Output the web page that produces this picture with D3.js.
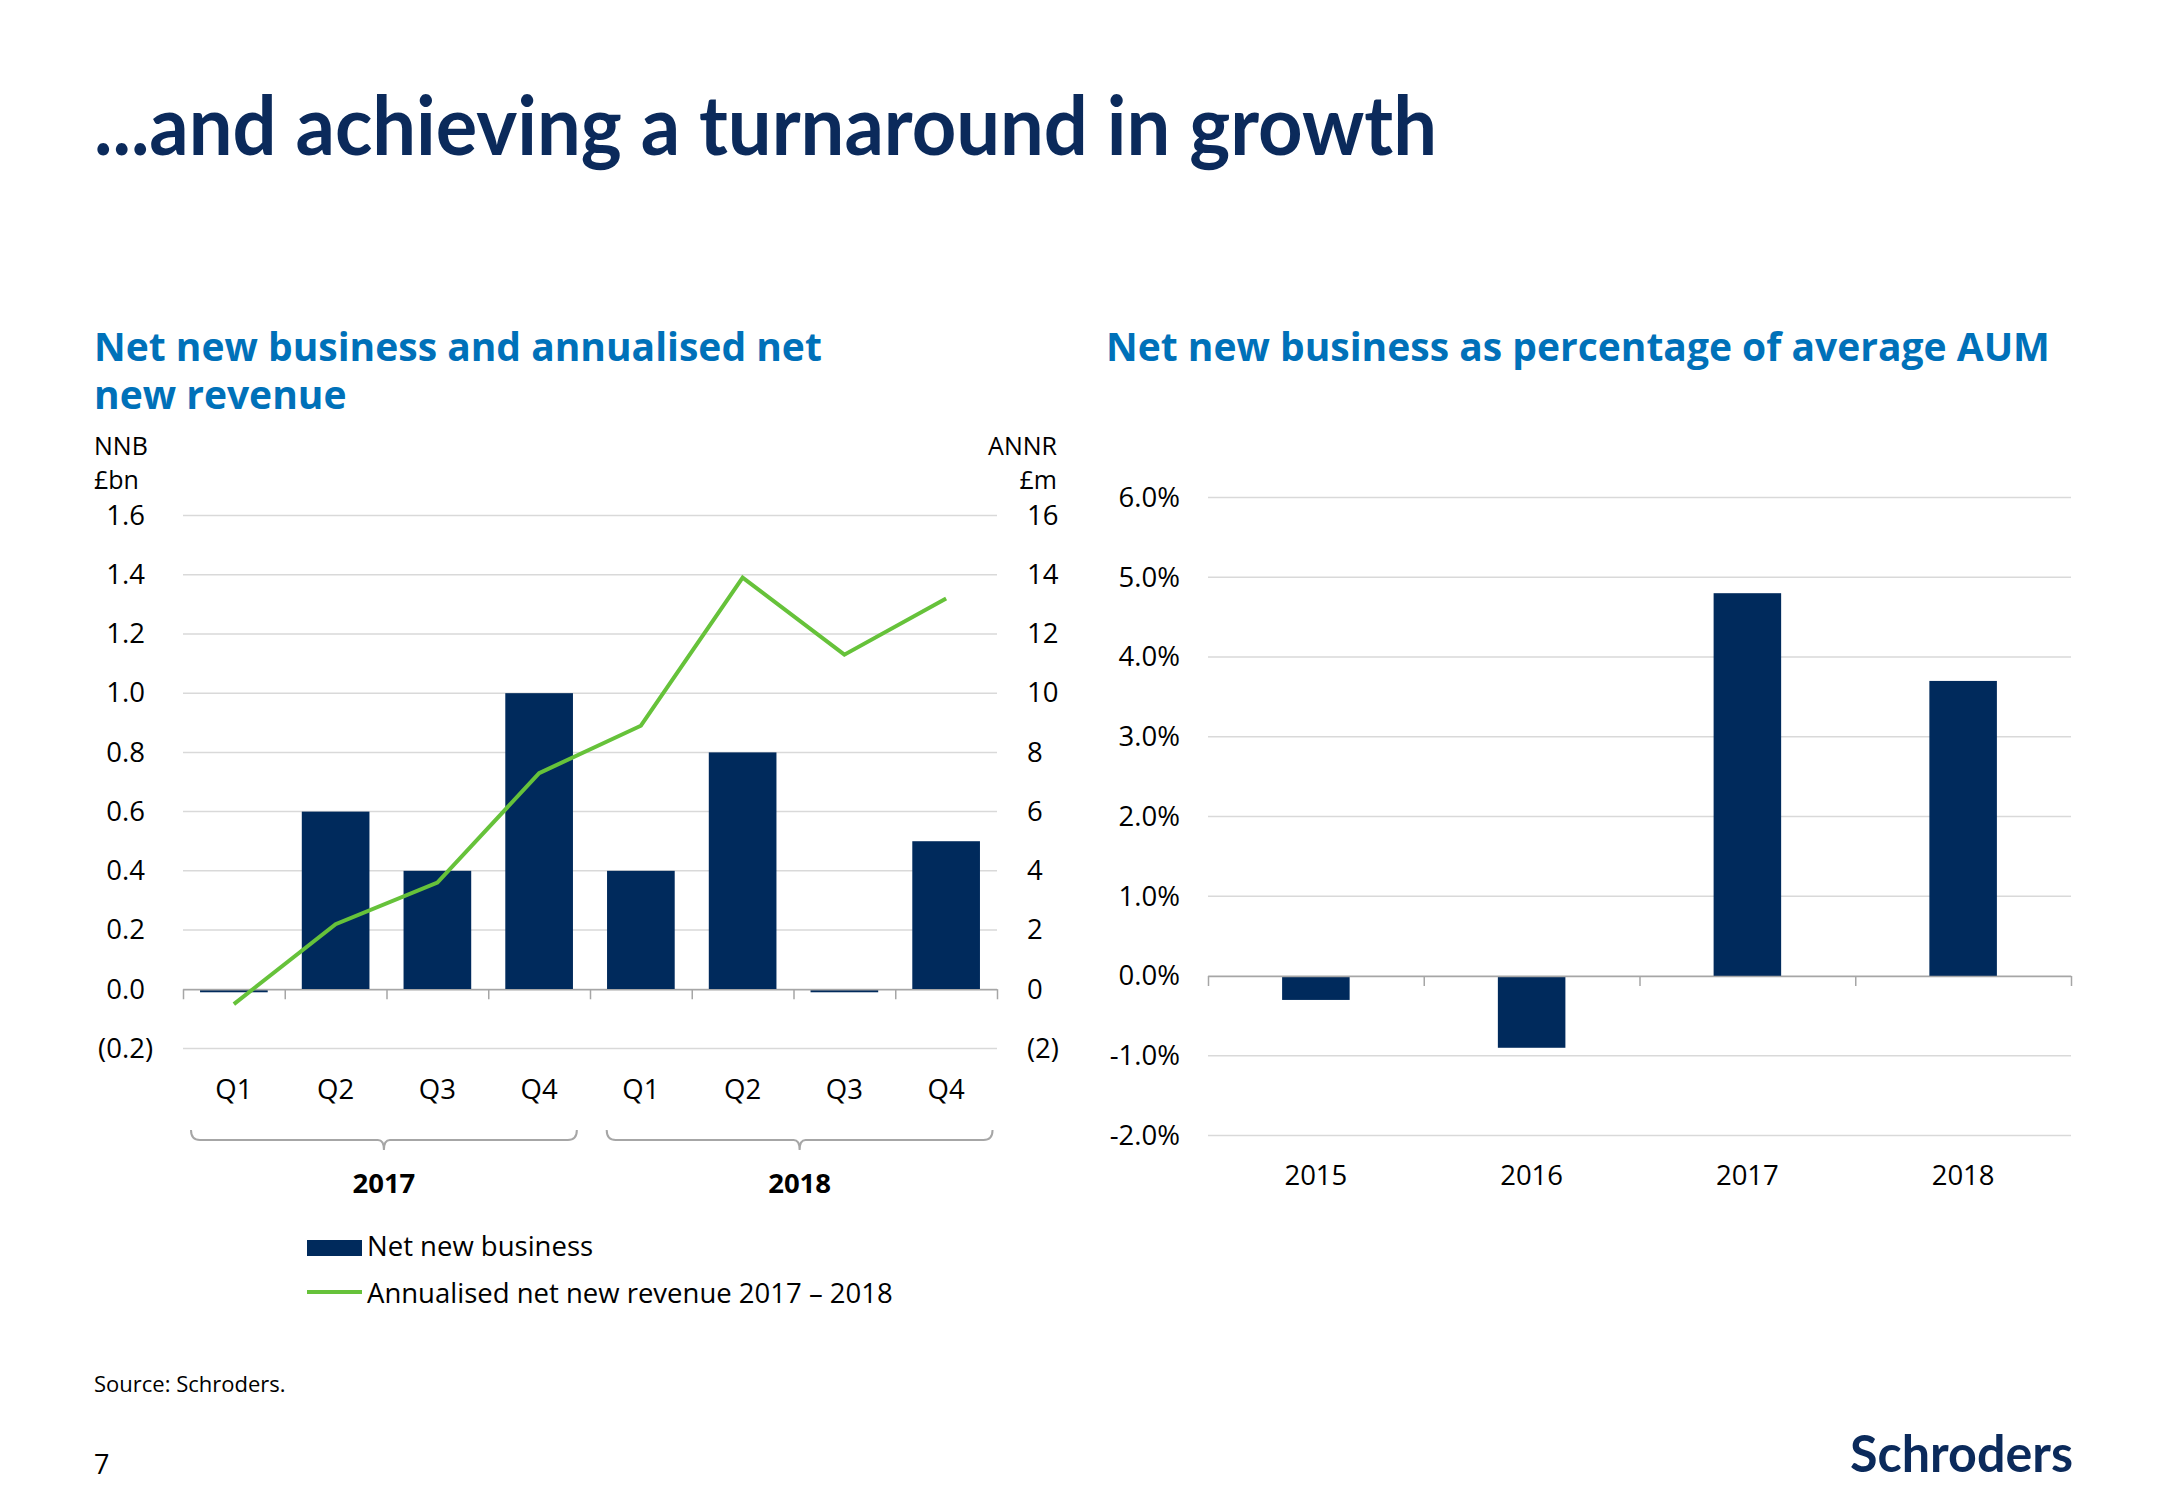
<!DOCTYPE html>
<html>
<head>
<meta charset="utf-8">
<script src="https://cdn.jsdelivr.net/npm/d3@7"></script>
<style>
  html, body { margin: 0; padding: 0; background: #ffffff; }
  svg { display: block; }
  text { font-family: "Open Sans", "DejaVu Sans", sans-serif; }
</style>
</head>
<body>
<svg id="chart" width="2167" height="1500"></svg>
<script>
// ---------- DATA ----------
const quarterLabels = ["Q1", "Q2", "Q3", "Q4", "Q1", "Q2", "Q3", "Q4"];
const quarterYears = ["2017", "2017", "2017", "2017", "2018", "2018", "2018", "2018"];
const yearGroups = ["2017", "2018"];
const nnbValues = [-0.01, 0.6, 0.4, 1.0, 0.4, 0.8, -0.01, 0.5];        // £bn
const annrValues = [-0.5, 2.2, 3.6, 7.3, 8.9, 13.9, 11.3, 13.2];       // £m
const nnbTicks = [-0.2, 0, 0.2, 0.4, 0.6, 0.8, 1.0, 1.2, 1.4, 1.6];
const annrTicks = [-2, 0, 2, 4, 6, 8, 10, 12, 14, 16];

const aumYears = ["2015", "2016", "2017", "2018"];
const aumPct = [-0.003, -0.009, 0.048, 0.037];
const aumTicks = [-0.02, -0.01, 0, 0.01, 0.02, 0.03, 0.04, 0.05, 0.06];

// ---------- STYLE ----------
const NAVY = "#002a5c";
const BLUE = "#0071b9";
const GREEN = "#66c23a";
const GRID = "#d9d9d9";
const AXIS = "#a6a6a6";
const FS = 27.5;

const svg = d3.select("#chart");

// ---------- HEADINGS ----------
svg.append("text")
  .attr("x", 94).attr("y", 155)
  .attr("textLength", 1343).attr("lengthAdjust", "spacingAndGlyphs")
  .style("font-family", "Lato, 'Open Sans', sans-serif")
  .style("font-weight", 700).style("font-size", "82px")
  .attr("fill", "#0b2a5b")
  .text("...and achieving a turnaround in growth");

const sub1 = svg.append("text").attr("fill", BLUE)
  .style("font-weight", 700).style("font-size", "39px");
sub1.append("tspan").attr("x", 94).attr("y", 361).text("Net new business and annualised net");
sub1.append("tspan").attr("x", 94).attr("y", 409).text("new revenue");

svg.append("text").attr("x", 1106).attr("y", 361).attr("fill", BLUE)
  .style("font-weight", 700).style("font-size", "39px")
  .text("Net new business as percentage of average AUM");

// ---------- LEFT CHART ----------
const L = { left: 183, right: 997, top: 515.5, bottom: 1048.5 };
const yL = d3.scaleLinear().domain([-0.2, 1.6]).range([L.bottom, L.top]);
const yR = d3.scaleLinear().domain([-2, 16]).range([L.bottom, L.top]);
const xL = d3.scaleBand().domain(d3.range(quarterLabels.length))
  .range([L.left, L.right]).paddingInner(0.335).paddingOuter(0.1675);

// gridlines
svg.append("g").selectAll("line").data(nnbTicks).join("line")
  .attr("x1", L.left).attr("x2", L.right)
  .attr("y1", d => yL(d)).attr("y2", d => yL(d))
  .attr("stroke", GRID).attr("stroke-width", 1.5);

// left axis labels
const gLeft = svg.append("g").attr("transform", `translate(153,0)`)
  .call(d3.axisLeft(yL).tickValues(nnbTicks).tickSize(0).tickPadding(0)
    .tickFormat(d => d < 0 ? "(" + d3.format(".1f")(-d) + ")" : d3.format(".1f")(d)));
gLeft.select(".domain").remove();
gLeft.selectAll("text").style("font-size", FS + "px").style("font-family", "'Open Sans', sans-serif")
  .attr("fill", "#000").attr("dx", d => d < 0 ? 0 : -8);

// right axis labels
const gRight = svg.append("g").attr("transform", `translate(1027,0)`)
  .call(d3.axisRight(yR).tickValues(annrTicks).tickSize(0).tickPadding(0)
    .tickFormat(d => d < 0 ? "(" + (-d) + ")" : String(d)));
gRight.select(".domain").remove();
gRight.selectAll("text").style("font-size", FS + "px").style("font-family", "'Open Sans', sans-serif")
  .attr("fill", "#000");

// unit labels
const UFS = 25;
svg.append("text").attr("x", 94).attr("y", 455).style("font-size", UFS + "px").attr("fill", "#000").text("NNB");
svg.append("text").attr("x", 94).attr("y", 489).style("font-size", UFS + "px").attr("fill", "#000").text("£bn");
svg.append("text").attr("x", 1057).attr("y", 455).attr("text-anchor", "end").style("font-size", UFS + "px").attr("fill", "#000").text("ANNR");
svg.append("text").attr("x", 1057).attr("y", 489).attr("text-anchor", "end").style("font-size", UFS + "px").attr("fill", "#000").text("£m");

// bars
svg.append("g").selectAll("rect").data(nnbValues).join("rect")
  .attr("x", (d, i) => xL(i))
  .attr("width", xL.bandwidth())
  .attr("y", d => yL(Math.max(0, d)))
  .attr("height", d => Math.max(Math.abs(yL(d) - yL(0)), 3))
  .attr("fill", NAVY);

// x axis with boundary ticks at zero
const boundL = d3.scaleLinear().domain([0, quarterLabels.length]).range([L.left, L.right]);
const gAxL = svg.append("g").attr("transform", `translate(0,${yL(0)})`)
  .call(d3.axisBottom(boundL).tickValues(d3.range(quarterLabels.length + 1)).tickSize(10).tickSizeOuter(0).tickFormat(""));
gAxL.selectAll("path, line").attr("stroke", AXIS).attr("stroke-width", 1.5);

// quarter labels
const gQ = svg.append("g").attr("transform", `translate(0,1079)`)
  .call(d3.axisBottom(xL).tickSize(0).tickPadding(0).tickFormat(i => quarterLabels[i]));
gQ.select(".domain").remove();
gQ.selectAll("text").style("font-size", FS + "px").style("font-family", "'Open Sans', sans-serif").attr("fill", "#000");

// line
const line = d3.line().x((d, i) => xL(i) + xL.bandwidth() / 2).y(d => yR(d));
svg.append("path").datum(annrValues).attr("d", line)
  .attr("fill", "none").attr("stroke", GREEN).attr("stroke-width", 4).attr("stroke-linejoin", "miter");

// year brackets
const bracketInset = [8, 16.7];
yearGroups.forEach((yr, gi) => {
  const idx = quarterYears.map((q, i) => q === yr ? i : -1).filter(i => i >= 0);
  const x0 = boundL(d3.min(idx)), x1 = boundL(d3.max(idx) + 1);
  const w = (x1 - x0) * 0.948;
  const a = x0 + bracketInset[gi], b = a + w, cx = (a + b) / 2;
  const yTop = 1130, yMid = 1140, yTip = 1150, r = 9;
  const p = d3.path();
  p.moveTo(a, yTop);
  p.quadraticCurveTo(a, yMid, a + r, yMid);
  p.lineTo(cx - 6, yMid);
  p.quadraticCurveTo(cx, yMid, cx, yTip);
  p.quadraticCurveTo(cx, yMid, cx + 6, yMid);
  p.lineTo(b - r, yMid);
  p.quadraticCurveTo(b, yMid, b, yTop);
  svg.append("path").attr("d", p.toString()).attr("fill", "none")
    .attr("stroke", AXIS).attr("stroke-width", 2);
  svg.append("text").attr("x", cx).attr("y", 1193).attr("text-anchor", "middle")
    .style("font-size", FS + "px").style("font-weight", 700).attr("fill", "#000").text(yr);
});

// legend
svg.append("rect").attr("x", 307).attr("y", 1240).attr("width", 55).attr("height", 16).attr("fill", NAVY);
svg.append("text").attr("x", 367).attr("y", 1256).style("font-size", FS + "px").attr("fill", "#000").text("Net new business");
svg.append("line").attr("x1", 307).attr("x2", 362).attr("y1", 1292).attr("y2", 1292)
  .attr("stroke", GREEN).attr("stroke-width", 4);
svg.append("text").attr("x", 367).attr("y", 1303).style("font-size", FS + "px").attr("fill", "#000")
  .text("Annualised net new revenue 2017 – 2018");

// ---------- RIGHT CHART ----------
const R = { left: 1208, right: 2071, top: 497.5, bottom: 1135.5 };
const y2 = d3.scaleLinear().domain([-0.02, 0.06]).range([R.bottom, R.top]);
const x2 = d3.scaleBand().domain(aumYears).range([R.left, R.right]).paddingInner(0.687).paddingOuter(0.3435);

svg.append("g").selectAll("line").data(aumTicks).join("line")
  .attr("x1", R.left).attr("x2", R.right)
  .attr("y1", d => y2(d)).attr("y2", d => y2(d))
  .attr("stroke", GRID).attr("stroke-width", 1.5);

const pctFmt = d3.format(".1%");
const g2y = svg.append("g").attr("transform", `translate(1180,0)`)
  .call(d3.axisLeft(y2).tickValues(aumTicks).tickSize(0).tickPadding(0)
    .tickFormat(d => pctFmt(d).replace("\u2212", "-")));
g2y.select(".domain").remove();
g2y.selectAll("text").style("font-size", FS + "px").style("font-family", "'Open Sans', sans-serif").attr("fill", "#000");

svg.append("g").selectAll("rect").data(aumPct).join("rect")
  .attr("x", (d, i) => x2(aumYears[i]))
  .attr("width", x2.bandwidth())
  .attr("y", d => y2(Math.max(0, d)))
  .attr("height", d => Math.abs(y2(d) - y2(0)))
  .attr("fill", NAVY);

const bound2 = d3.scaleLinear().domain([0, aumYears.length]).range([R.left, R.right]);
const g2ax = svg.append("g").attr("transform", `translate(0,${y2(0)})`)
  .call(d3.axisBottom(bound2).tickValues(d3.range(aumYears.length + 1)).tickSize(10).tickSizeOuter(0).tickFormat(""));
g2ax.selectAll("path, line").attr("stroke", AXIS).attr("stroke-width", 1.5);

const g2x = svg.append("g").attr("transform", `translate(0,1165)`)
  .call(d3.axisBottom(x2).tickSize(0).tickPadding(0));
g2x.select(".domain").remove();
g2x.selectAll("text").style("font-size", FS + "px").style("font-family", "'Open Sans', sans-serif").attr("fill", "#000");

// ---------- FOOTER ----------
svg.append("text").attr("x", 94).attr("y", 1392).style("font-size", "22px").attr("fill", "#000").text("Source: Schroders.");
svg.append("text").attr("x", 94).attr("y", 1474).style("font-size", "27px").attr("fill", "#000").text("7");
svg.append("text").attr("x", 1850).attr("y", 1472)
  .attr("textLength", 223).attr("lengthAdjust", "spacingAndGlyphs")
  .style("font-family", "Lato, sans-serif").style("font-weight", 700).style("font-size", "52px")
  .attr("fill", "#0b2a5b").text("Schroders");
</script>
</body>
</html>
